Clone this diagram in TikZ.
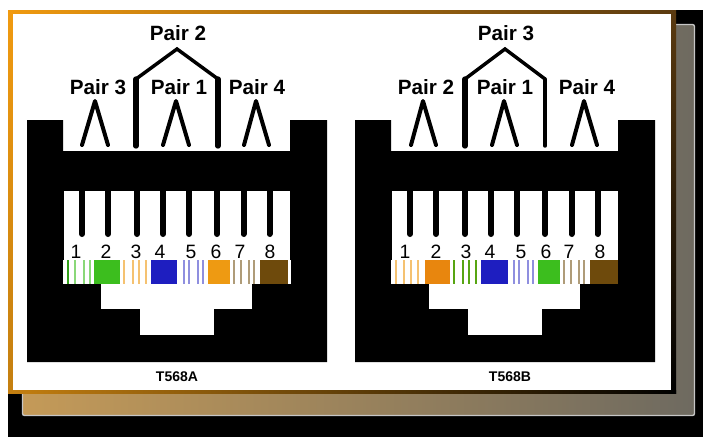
\documentclass[tikz,border=0pt]{standalone}
\usepackage{fontspec}
\setmainfont{Liberation Sans}
\definecolor{wgreen}{HTML}{3CBE1E}
\definecolor{worange}{HTML}{EE9A12}
\definecolor{borange}{HTML}{E8860E}
\definecolor{wblue}{HTML}{1E1EC0}
\definecolor{wbrown}{HTML}{6E4A0C}
\definecolor{frameA}{HTML}{F09A10}
\definecolor{frameB}{HTML}{5A3A10}
\definecolor{frameC}{HTML}{C47F10}
\definecolor{shadeA}{HTML}{C49A58}
\definecolor{shadeB}{HTML}{6E6A60}
\tikzset{
  pairlabel/.style={font=\bfseries\fontsize{15.5}{15.5}\selectfont,inner sep=0pt,text=black},
  pinlabel/.style={font=\fontsize{14.5}{14.5}\selectfont,inner sep=0pt,text=black},
  stdlabel/.style={font=\bfseries\fontsize{10.5}{10.5}\selectfont,inner sep=0pt,text=black},
  pairline/.style={draw=black,line width=2.6pt,line join=miter},
  legline/.style={draw=black,line width=4pt},
  thinpair/.style={draw=black,line width=3pt,line cap=round,line join=round},
  contactline/.style={draw=black,line width=4.5pt,line cap=round},
}
\begin{document}
\begin{tikzpicture}[x=0.75pt,y=-0.75pt]
\useasboundingbox (0,0) rectangle (703,437);
\fill[white] (0,0) rectangle (703,437);
\fill[black] (8,393) rectangle (703,437);
\fill[black] (675,10) rectangle (703,437);
\shade[left color=shadeA,right color=shadeB,draw=gray!45,line width=1pt,rounded corners=1.5pt] (22.5,24.5) rectangle (694.5,415.5);
% frame
\shade[left color=frameA,right color=frameB] (8,10) rectangle (676,14);
\shade[top color=frameA,bottom color=frameC] (8,10) rectangle (13,393);
\shade[left color=frameC,right color=black] (8,390) rectangle (676,393);
\shade[top color=frameB,bottom color=black] (671,14) rectangle (676,393);
\fill[white] (13,14) rectangle (671,390);
\foreach \ox in {0,328} {
  \begin{scope}[xshift=\ox*0.75pt]
    \fill[black] (27,120) -- (63,120) -- (63,151) -- (290,151) -- (290,120) -- (327,120) -- (327,362) -- (27,362) -- cycle;
    \fill[white] (64,191) rectangle (290,283);
    \fill[white] (101,283) rectangle (252,309);
    \fill[white] (140,309) rectangle (214,335);
    \foreach \cx in {82,108,137,163,189,217,243.5,269.5} {
      \draw[contactline] (\cx,189) -- (\cx,234);
    }
  \end{scope}
}
\foreach \px/\pn in {76/1,106/2,136/3,160/4,191/5,216/6,240/7,270/8,405/1,436/2,466/3,490/4,521/5,546/6,569/7,600/8} {
  \node[pinlabel] at (\px,252) {\pn};
}
% left jack pins
\fill[white] (63,260) rectangle (291,284);
\fill[wgreen!85!black] (66.5,260) rectangle (69,284);
\foreach \sx in {74,83,89} { \fill[wgreen!60] (\sx,260) rectangle (\sx+2.4,284); }
\foreach \sx in {123,132,138,145} { \fill[worange!60] (\sx,260) rectangle (\sx+2.4,284); }
\foreach \sx in {183,188,197,202} { \fill[wblue!50] (\sx,260) rectangle (\sx+2.4,284); }
\foreach \sx in {233,240,248,253} { \fill[wbrown!55] (\sx,260) rectangle (\sx+2.4,284); }
\fill[wgreen] (94,260) rectangle (119.5,284);
\fill[wblue] (151,260) rectangle (177,284);
\fill[worange] (207.5,260) rectangle (229.5,284);
\fill[wbrown] (259.5,260) rectangle (288,284);
% right jack pins
\fill[white] (391,260) rectangle (618,284);
\foreach \sx in {395,403,410,417} { \fill[worange!60] (\sx,260) rectangle (\sx+2.4,284); }
\foreach \sx in {453,461.5,468,475} { \fill[wgreen!60!olive] (\sx,260) rectangle (\sx+2.4,284); }
\foreach \sx in {513,518,527,532} { \fill[wblue!50] (\sx,260) rectangle (\sx+2.4,284); }
\foreach \sx in {563,570,578,583} { \fill[wbrown!55] (\sx,260) rectangle (\sx+2.4,284); }
\fill[borange] (424.5,260) rectangle (449.5,284);
\fill[wblue] (481,260) rectangle (507.5,284);
\fill[wgreen] (537.5,260) rectangle (559.5,284);
\fill[wbrown] (589.5,260) rectangle (618,284);
% left labels
\node[pairlabel] (a2) at (178,33) {Pair 2};
\node[pairlabel] (a3) at (98,87) {Pair 3};
\node[pairlabel] (a1) at (179,87) {Pair 1};
\node[pairlabel] (a4) at (257,87) {Pair 4};
\coordinate (a2t) at (177,49);
\coordinate (a2l) at (136,79);
\coordinate (a2r) at (218,79);
\coordinate (a2lb) at (136,146);
\coordinate (a2rb) at (218,146);
\draw[pairline] (a2l) -- (a2t) -- (a2r);
\draw[legline,line cap=round] (a2lb) -- (a2l);
\draw[legline,line cap=round] (a2rb) -- (a2r);
\draw[thinpair] (82,145) -- (95,101) -- (108,145);
\draw[thinpair] (163,145) -- (176,101) -- (189,145);
\draw[thinpair] (244,145) -- (256,101) -- (269,145);
\node[stdlabel] (ta) at (177,377) {T568A};
% right labels
\node[pairlabel] (b3) at (506,33) {Pair 3};
\node[pairlabel] (b2) at (426,87) {Pair 2};
\node[pairlabel] (b1) at (505,87) {Pair 1};
\node[pairlabel] (b4) at (587,87) {Pair 4};
\coordinate (b2t) at (505,49);
\coordinate (b2l) at (465,79);
\coordinate (b2r) at (545,79);
\coordinate (b2lb) at (465,146);
\coordinate (b2rb) at (545,146);
\draw[pairline] (b2l) -- (b2t) -- (b2r);
\draw[legline,line cap=round] (b2lb) -- (b2l);
\draw[legline,line width=2.6pt,line cap=round] (b2rb) -- (b2r);
\draw[thinpair] (411,145) -- (423,101) -- (436,145);
\draw[thinpair] (492,145) -- (504,101) -- (517,145);
\draw[thinpair] (572,145) -- (584,101) -- (597,145);
\node[stdlabel] (tb) at (510,377) {T568B};
\end{tikzpicture}
\end{document}
